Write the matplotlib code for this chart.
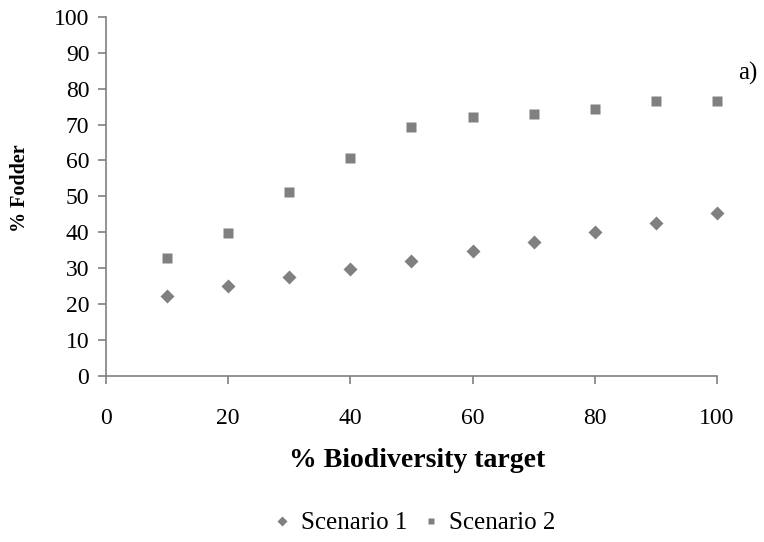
import matplotlib
matplotlib.use('Agg')
import matplotlib.pyplot as plt
from matplotlib.lines import Line2D

x = [10, 20, 30, 40, 50, 60, 70, 80, 90, 100]
scen1 = [22.3, 25.0, 27.6, 29.8, 32.1, 34.8, 37.4, 40.0, 42.6, 45.3]
scen2 = [32.7, 39.8, 51.1, 60.6, 69.4, 72.1, 73.1, 74.3, 76.5, 76.5]
labels = ['Scenario 1', 'Scenario 2']

plt.rcParams['font.family'] = ['Liberation Serif', 'DejaVu Serif']
grey = '#808080'

fig = plt.figure(figsize=(7.64, 5.42), dpi=100)
ax = fig.add_axes([0.1387, 0.3068, 0.7997, 0.6618])
ax.plot(x, scen1, 'D', color=grey, ms=7.4, mec='none', clip_on=False)
ax.plot(x, scen2, 's', color=grey, ms=7.6, mec='none', clip_on=False)
ax.set_xlim(0, 100); ax.set_ylim(0, 100)
ax.set_xticks(range(0, 101, 20)); ax.set_yticks(range(0, 101, 10))
for s in ['top', 'right']: ax.spines[s].set_visible(False)
for s in ['left', 'bottom']: ax.spines[s].set_color(grey); ax.spines[s].set_linewidth(1.2)
ax.tick_params(colors=grey, labelcolor='black', labelsize=17, length=6, width=1.2)
ax.tick_params(axis='x', pad=17)
ax.tick_params(axis='y', pad=6)
fig.text(417/764, 1-467/542, '% Biodiversity target', fontsize=20, fontweight='bold', ha='center', va='baseline')
fig.text(20/764, 1-188.5/542, '% Fodder', fontsize=14.5, fontweight='bold', rotation=90, ha='center', va='center')
fig.text(738/764, 1-73/542, 'a)', fontsize=18, ha='left', va='center')
h = [Line2D([], [], ls='none', marker='D', color=grey, ms=4.6, mec='none'),
     Line2D([], [], ls='none', marker='s', color=grey, ms=5, mec='none')]
fig.legend(h, labels, loc='center', bbox_to_anchor=(414.5/764, 1-523/542), ncol=2, frameon=False,
           fontsize=18, handlelength=0.7, handletextpad=0.4, columnspacing=0.6, borderpad=0, borderaxespad=0)
fig.savefig('out.png', dpi=100)
